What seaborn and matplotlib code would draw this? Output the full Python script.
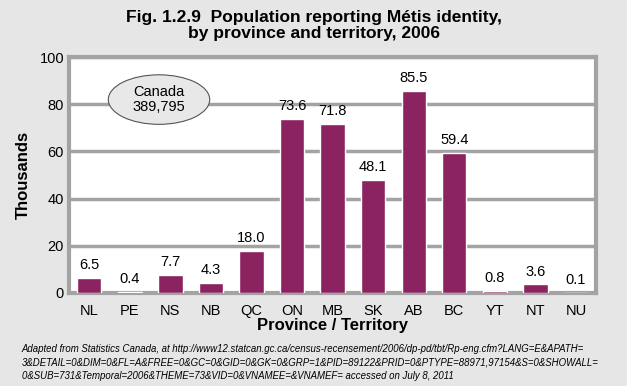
import matplotlib
matplotlib.use("Agg")
import matplotlib.pyplot as plt
import seaborn as sns
import pandas as pd
from matplotlib.patches import Ellipse

# ---------- data ----------
provinces = ["NL", "PE", "NS", "NB", "QC", "ON", "MB", "SK", "AB", "BC", "YT", "NT", "NU"]
thousands = [6.5, 0.4, 7.7, 4.3, 18.0, 73.6, 71.8, 48.1, 85.5, 59.4, 0.8, 3.6, 0.1]
canada_total = "389,795"

df = pd.DataFrame({"Province": provinces, "Thousands": thousands})

# ---------- style ----------
sns.set_style("white")
plt.rcParams["font.family"] = ["Liberation Sans", "DejaVu Sans"]
plt.rcParams["text.color"] = "black"
plt.rcParams["axes.labelcolor"] = "black"

bg = "#e6e6e6"
frame = "#a3a3a3"
bar_color = "#8b2360"

fig = plt.figure(figsize=(6.27, 3.86), dpi=100, facecolor=bg)
ax = fig.add_axes([0.110, 0.241, 0.841, 0.611])
ax.set_facecolor("white")

sns.barplot(data=df, x="Province", y="Thousands", color=bar_color,
            width=0.6, saturation=1, ax=ax, zorder=3)

ax.set_ylim(0, 100)
ax.set_yticks([0, 20, 40, 60, 80, 100])
ax.yaxis.grid(True, color=frame, linewidth=2.5, zorder=0)
ax.set_axisbelow(True)
for s in ax.spines.values():
    s.set_color(frame)
    s.set_linewidth(3)
ax.tick_params(axis="both", length=0, labelsize=10.5, colors="black")
ax.tick_params(axis="x", pad=8)

# value labels
for i, v in enumerate(thousands):
    ax.text(i, v + 2.5, f"{v:.1f}", ha="center", va="bottom", fontsize=10.5)

ax.set_xlabel("Province / Territory", fontsize=12, fontweight="bold", labelpad=0)
ax.set_ylabel("Thousands", fontsize=12, fontweight="bold", labelpad=6)

# Canada total bubble
ell = Ellipse((1.72, 82), width=2.5, height=21, facecolor="#e8e8e8",
              edgecolor="#555555", linewidth=0.8, zorder=4)
ax.add_patch(ell)
ax.text(1.72, 82, "Canada\n" + canada_total, ha="center", va="center",
        fontsize=10.5, zorder=5, linespacing=1.1)

fig.suptitle("Fig. 1.2.9  Population reporting Métis identity,\nby province and territory, 2006",
             fontsize=12.5, fontweight="bold", y=0.975, linespacing=1.1)

fig.text(0.035, 0.012,
         "Adapted from Statistics Canada, at http://www12.statcan.gc.ca/census-recensement/2006/dp-pd/tbt/Rp-eng.cfm?LANG=E&APATH=\n"
         "3&DETAIL=0&DIM=0&FL=A&FREE=0&GC=0&GID=0&GK=0&GRP=1&PID=89122&PRID=0&PTYPE=88971,97154&S=0&SHOWALL=\n"
         "0&SUB=731&Temporal=2006&THEME=73&VID=0&VNAMEE=&VNAMEF= accessed on July 8, 2011",
         fontsize=6.9, style="italic", ha="left", va="bottom", linespacing=1.45)

fig.savefig("out.png", dpi=100, facecolor=bg)
